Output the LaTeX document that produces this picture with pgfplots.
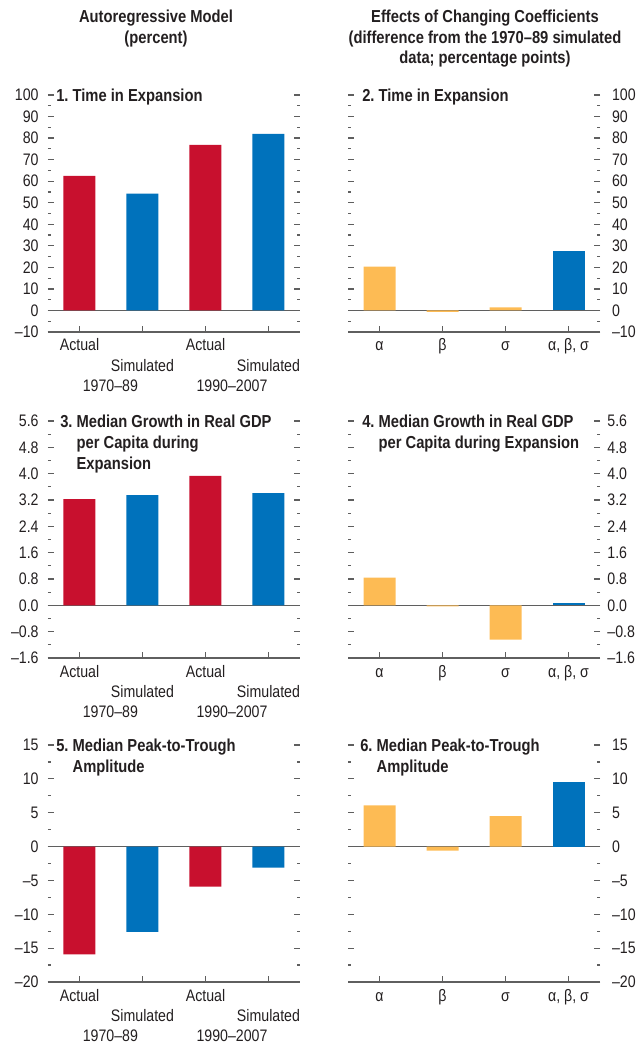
\documentclass[border=0pt]{standalone}
\usepackage{pgfplots}
\pgfplotsset{compat=1.18}
\usepackage{fontspec}
\setmainfont{Liberation Sans}[FakeStretch=0.85]
\definecolor{imfred}{RGB}{200,16,46}
\definecolor{imfblue}{RGB}{0,114,188}
\definecolor{imforange}{RGB}{253,187,84}
\definecolor{axgray}{RGB}{95,95,95}
\definecolor{txt}{RGB}{35,31,32}
\tikzset{
  ttl/.style={anchor=base west, inner sep=0pt, text=txt,
    font=\fontsize{13}{16}\selectfont\bfseries, yshift=-4.6pt},
}
\pgfplotsset{
  panel/.style={
    scale only axis, width=189pt, height=177.75pt,
    xmin=-0.5, xmax=3.5, clip=false,
    axis line style={draw=none},
    tick align=inside, xtick pos=left, ytick pos=both,
    major tick length=4.5pt, minor tick length=2.25pt,
    tick style={axgray, line width=0.9pt},
    minor y tick num=1,
    xtick={0,1,2,3},
    tick label style={font=\fontsize{12.5}{15.3}\selectfont, text=txt},
    xticklabel style={align=center, anchor=north},
    extra y tick style={grid=major, major grid style={axgray, line width=1.1pt}},
    extra y tick labels={},
    extra x tick style={major tick length=0pt},
  },
  leftpanel/.style={panel,
    yticklabel pos=left,
    yticklabel style={xshift=-3.5pt},
    xticklabels={\strut Actual,{\strut\\Simulated},\strut Actual,{\strut\\Simulated}},
    extra x ticks={0.49,2.42},
    extra x tick labels={{\strut\\\strut\\1970--89},{\strut\\\strut\\1990--2007}},
  },
  rightpanel/.style={panel,
    yticklabel pos=right,
    xticklabels={\strut α,\strut β,\strut σ,{\strut α, β, σ}},
  },
}
\begin{document}
\begin{tikzpicture}
\path[use as bounding box] (0,0) rectangle (479.25pt,-784.5pt);
% headers
\begin{scope}[every node/.style={anchor=base, inner sep=0pt, text=txt, font=\fontsize{13}{15.5}\selectfont\bfseries}]
\node at (117pt,-16.5pt) {Autoregressive Model};
\node at (117pt,-32.25pt) {(percent)};
\node at (363.75pt,-16.5pt) {Effects of Changing Coefficients};
\node at (363.75pt,-32.25pt) {(difference from the 1970--89 simulated};
\node at (363.75pt,-47.25pt) {data; percentage points)};
\end{scope}

% Panel 1
\begin{axis}[leftpanel, at={(36pt,-249pt)}, anchor=south west,
  ymin=-10, ymax=100, ytick={-10,0,...,100},
  yticklabels={--10,0,10,20,30,40,50,60,70,80,90,100},
  extra y ticks={-10,0}]
\addplot[ybar, bar width=24pt, bar shift=0pt, fill=imfred, draw=none] coordinates {(0,62.5) (2,76.9)};
\addplot[ybar, bar width=24pt, bar shift=0pt, fill=imfblue, draw=none] coordinates {(1,54.2) (3,82.0)};
\node[ttl, xshift=6pt] at (rel axis cs:0,1) {\begin{tabular}[t]{@{}l@{\ }l@{}}1. & Time in Expansion\end{tabular}};
\end{axis}

% Panel 2
\begin{axis}[rightpanel, at={(261pt,-249pt)}, anchor=south west,
  yticklabel style={xshift=5.5pt},
  ymin=-10, ymax=100, ytick={-10,0,...,100},
  yticklabels={--10,0,10,20,30,40,50,60,70,80,90,100},
  extra y ticks={-10,0}]
\addplot[ybar, bar width=24pt, bar shift=0pt, fill=imforange, draw=none] coordinates {(0,20.4) (1,-0.7) (2,1.4)};
\addplot[ybar, bar width=24pt, bar shift=0pt, fill=imfblue, draw=none] coordinates {(3,27.8)};
\node[ttl, xshift=10.5pt] at (rel axis cs:0,1) {\begin{tabular}[t]{@{}l@{\ }l@{}}2. & Time in Expansion\end{tabular}};
\end{axis}

% Panel 3
\begin{axis}[leftpanel, at={(36pt,-493.5pt)}, anchor=south west,
  ymin=-1.6, ymax=5.6, ytick={-1.6,-0.8,0,0.8,1.6,2.4,3.2,4.0,4.8,5.6},
  yticklabels={--1.6,--0.8,0.0,0.8,1.6,2.4,3.2,4.0,4.8,5.6},
  extra y ticks={-1.6,0}]
\addplot[ybar, bar width=24pt, bar shift=0pt, fill=imfred, draw=none] coordinates {(0,3.23) (2,3.93)};
\addplot[ybar, bar width=24pt, bar shift=0pt, fill=imfblue, draw=none] coordinates {(1,3.35) (3,3.41)};
\node[ttl, xshift=9pt] at (rel axis cs:0,1) {\begin{tabular}[t]{@{}l@{\ }l@{}}3. & Median Growth in Real GDP\\ & per Capita during\\ & Expansion\end{tabular}};
\end{axis}

% Panel 4
\begin{axis}[rightpanel, at={(261pt,-493.5pt)}, anchor=south west,
  yticklabel style={xshift=2pt},
  ymin=-1.6, ymax=5.6, ytick={-1.6,-0.8,0,0.8,1.6,2.4,3.2,4.0,4.8,5.6},
  yticklabels={--1.6,--0.8,0.0,0.8,1.6,2.4,3.2,4.0,4.8,5.6},
  extra y ticks={-1.6,0}]
\addplot[ybar, bar width=24pt, bar shift=0pt, fill=imforange, draw=none] coordinates {(0,0.84) (1,-0.03) (2,-1.04)};
\addplot[ybar, bar width=24pt, bar shift=0pt, fill=imfblue, draw=none] coordinates {(3,0.06)};
\node[ttl, xshift=10.5pt] at (rel axis cs:0,1) {\begin{tabular}[t]{@{}l@{\ }l@{}}4. & Median Growth in Real GDP\\ & per Capita during Expansion\end{tabular}};
\end{axis}

% Panel 5
\begin{axis}[leftpanel, at={(36pt,-736.5pt)}, anchor=south west,
  ymin=-20, ymax=15, ytick={-20,-15,...,15},
  yticklabels={--20,--15,--10,--5,0,5,10,15},
  extra y ticks={-20,0}]
\addplot[ybar, bar width=24pt, bar shift=0pt, fill=imfred, draw=none] coordinates {(0,-15.9) (2,-5.9)};
\addplot[ybar, bar width=24pt, bar shift=0pt, fill=imfblue, draw=none] coordinates {(1,-12.6) (3,-3.1)};
\node[ttl, xshift=6pt] at (rel axis cs:0,1) {\begin{tabular}[t]{@{}l@{\ }l@{}}5. & Median Peak-to-Trough\\ & Amplitude\end{tabular}};
\end{axis}

% Panel 6
\begin{axis}[rightpanel, at={(261pt,-736.5pt)}, anchor=south west,
  yticklabel style={xshift=5.5pt},
  ymin=-20, ymax=15, ytick={-20,-15,...,15},
  yticklabels={--20,--15,--10,--5,0,5,10,15},
  extra y ticks={-20,0}]
\addplot[ybar, bar width=24pt, bar shift=0pt, fill=imforange, draw=none] coordinates {(0,6.1) (1,-0.6) (2,4.5)};
\addplot[ybar, bar width=24pt, bar shift=0pt, fill=imfblue, draw=none] coordinates {(3,9.5)};
\node[ttl, xshift=9pt] at (rel axis cs:0,1) {\begin{tabular}[t]{@{}l@{\ }l@{}}6. & Median Peak-to-Trough\\ & Amplitude\end{tabular}};
\end{axis}
\end{tikzpicture}
\end{document}
